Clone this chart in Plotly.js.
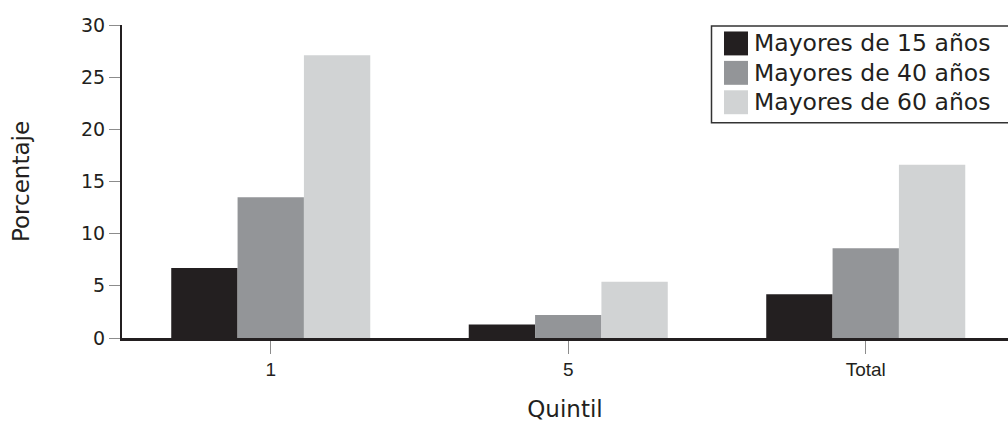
<!DOCTYPE html>
<html>
<head>
<meta charset="utf-8">
<script src="https://cdn.plot.ly/plotly-3.0.1.min.js"></script>
<style>
html,body{margin:0;padding:0;background:#fff;}
#chart{width:1008px;height:424px;}
</style>
</head>
<body>
<div id="chart"></div>
<script>
const categories = ["1", "5", "Total"];
const seriesNames = ["Mayores de 15 años", "Mayores de 40 años", "Mayores de 60 años"];
const mayores15 = [6.7, 1.3, 4.2];
const mayores40 = [13.5, 2.2, 8.6];
const mayores60 = [27.1, 5.4, 16.6];
const seriesColors = ["#231f20", "#939598", "#d1d3d4"];
const yTickVals = [0, 5, 10, 15, 20, 25, 30];

const W = 1008, H = 424;
const M = {l: 122, r: 0, t: 24.5, b: 85.5};
const plotW = W - M.l - M.r, plotH = H - M.t - M.b;
const px2x = px => (px - M.l) / plotW;
const px2y = py => (H - M.b - py) / plotH;

const values = [mayores15, mayores40, mayores60];
const traces = values.map((v, i) => ({
  type: "bar",
  x: [0, 1, 2],
  y: v,
  name: seriesNames[i],
  marker: {color: seriesColors[i], line: {width: 0}},
  showlegend: false,
  hoverinfo: "skip"
}));

const legendFont = "DejaVu Sans, sans-serif";
const shapes = [{
  type: "rect", xref: "paper", yref: "paper",
  x0: px2x(711.5), x1: px2x(1015), y0: px2y(122.5), y1: px2y(25.5),
  line: {color: "#333333", width: 1.5}, fillcolor: "#ffffff", layer: "above"
}];
const annotations = [];
seriesNames.forEach((name, i) => {
  const top = 31 + i * 29.5;
  shapes.push({
    type: "rect", xref: "paper", yref: "paper",
    x0: px2x(724), x1: px2x(748), y0: px2y(top + 24), y1: px2y(top),
    line: {width: 0}, fillcolor: seriesColors[i], layer: "above"
  });
  annotations.push({
    xref: "paper", yref: "paper", x: px2x(752), y: px2y(top + 12),
    xanchor: "left", yanchor: "middle", showarrow: false,
    text: name, font: {family: legendFont, size: 23.5, color: "#231f20"}
  });
});

const layout = {
  width: W, height: H,
  margin: M,
  paper_bgcolor: "#ffffff", plot_bgcolor: "#ffffff",
  barmode: "group", bargap: 0.331, bargroupgap: 0,
  showlegend: false,
  xaxis: {
    range: [-0.5, -0.5 + plotW / 297.5],
    tickvals: [0, 1, 2], ticktext: categories,
    tickson: "boundaries",
    ticks: "outside", ticklen: 13, tickcolor: "#8c8c8c", tickwidth: 1,
    showline: true, linecolor: "#231f20", linewidth: 2.5,
    showgrid: false, zeroline: false,
    tickfont: {family: "Liberation Sans, Arial, sans-serif", size: 19, color: "#231f20"},
    title: {text: "Quintil", font: {family: legendFont, size: 23, color: "#231f20"}, standoff: 22}
  },
  yaxis: {
    range: [0, 30], tickvals: yTickVals,
    ticks: "outside", ticklen: 11, tickcolor: "#8c8c8c", tickwidth: 1,
    showline: true, linecolor: "#231f20", linewidth: 2,
    showgrid: false, zeroline: false,
    tickfont: {family: legendFont, size: 19, color: "#231f20"},
    title: {text: "Porcentaje", font: {family: legendFont, size: 23, color: "#231f20"}, standoff: 45}
  },
  shapes: shapes,
  annotations: annotations
};

Plotly.newPlot("chart", traces, layout, {displayModeBar: false, staticPlot: true});
</script>
</body>
</html>
